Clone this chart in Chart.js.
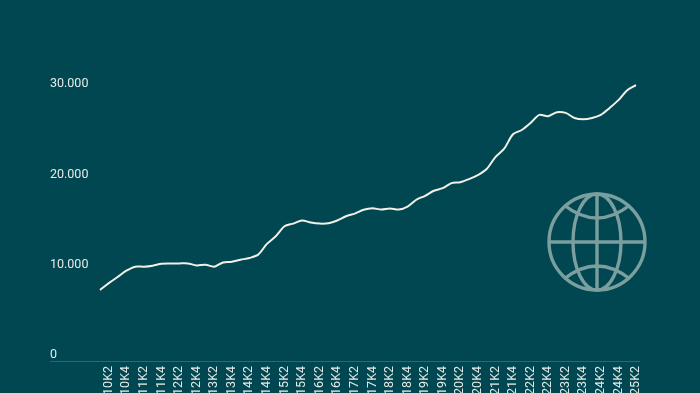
<!DOCTYPE html>
<html>
<head>
<meta charset="utf-8">
<style>
  html, body { margin: 0; padding: 0; background: #004751; overflow: hidden; }
  #wrap { position: relative; width: 700px; height: 393px; }
  #globe { position: absolute; left: 547px; top: 192px; }
</style>
<script src="https://cdn.jsdelivr.net/npm/chart.js@4"></script>
</head>
<body>
<div id="wrap">
  <canvas id="c" width="700" height="393"></canvas>
  <svg id="globe" width="100" height="100" viewBox="0 0 100 100" fill="none" stroke="#7b9e9f" stroke-width="3.4">
    <circle cx="50" cy="50" r="48"/>
    <ellipse cx="50" cy="50" rx="24" ry="48"/>
    <path d="M50 2V98M2 50H98"/>
    <path d="M17 13Q50 39 83 13"/>
    <path d="M17 87Q50 61 83 87"/>
  </svg>
</div>
<script>
const years = ['2010','2011','2012','2013','2014','2015','2016','2017','2018','2019','2020','2021','2022','2023','2024','2025']
const categories = []
years.forEach(y => ['K1','K2','K3','K4'].forEach(q => categories.push(y + q)))
categories.length = 62

const values = [
  7970, 8740, 9410, 10110, 10560, 10560, 10670, 10890, 10920, 10920, 10920,
  10700, 10780, 10560, 11030, 11110, 11330, 11520, 11890, 13080, 13920,
  15030, 15330, 15670, 15440, 15330, 15370, 15670, 16140, 16440, 16860,
  17030, 16890, 17000, 16890, 17220, 17970, 18410, 18970, 19260, 19810,
  19920, 20260, 20700, 21370, 22700, 23630, 25220, 25700, 26480, 27370,
  27220, 27670, 27590, 27030, 26890, 27030, 27370, 28140, 29000, 30110, 30670
]
const yTicks = [0, 10000, 20000, 30000]

// the base line runs on under the y labels, further left than the x scale
const baseLine = {
  id: 'baseLine',
  afterDraw(chart) {
    const { ctx } = chart
    ctx.save()
    ctx.strokeStyle = '#2a6a70'
    ctx.lineWidth = 1
    ctx.beginPath()
    ctx.moveTo(50, 361.5)
    ctx.lineTo(chart.chartArea.right, 361.5)
    ctx.stroke()
    ctx.restore()
  }
}

new Chart(document.getElementById('c'), {
  type: 'line',
  data: {
    labels: categories,
    datasets: [{
      data: values,
      borderColor: '#f3f0e6',
      borderWidth: 2,
      pointRadius: 0,
      tension: 0.3
    }]
  },
  plugins: [baseLine],
  options: {
    responsive: false,
    animation: false,
    layout: { padding: { top: 46, left: 50, right: 59.6, bottom: 0 } },
    plugins: { legend: { display: false }, tooltip: { enabled: false } },
    scales: {
      x: {
        offset: true,
        afterFit: s => { s.height = 31 },
        border: { display: false },
        grid: { display: false, drawTicks: false },
        ticks: {
          color: '#e6ebe8',
          font: { family: 'Roboto', size: 12.5 },
          autoSkip: false,
          minRotation: 90,
          maxRotation: 90,
          padding: 4,
          callback: (v, i) => (i % 2 === 1 ? categories[i] : null)
        }
      },
      y: {
        min: 0,
        max: 35000,
        afterFit: s => { s.width = 45.6 },
        afterBuildTicks: s => { s.ticks = yTicks.map(value => ({ value })) },
        border: { display: false },
        grid: { display: false, drawTicks: false },
        ticks: {
          color: '#e6ebe8',
          font: { family: 'Roboto', size: 12.5 },
          crossAlign: 'far',
          padding: 0,
          labelOffset: -7,
          callback: v => String(v).replace(/\B(?=(\d{3})+$)/g, '.')
        }
      }
    }
  }
})
</script>
</body>
</html>
